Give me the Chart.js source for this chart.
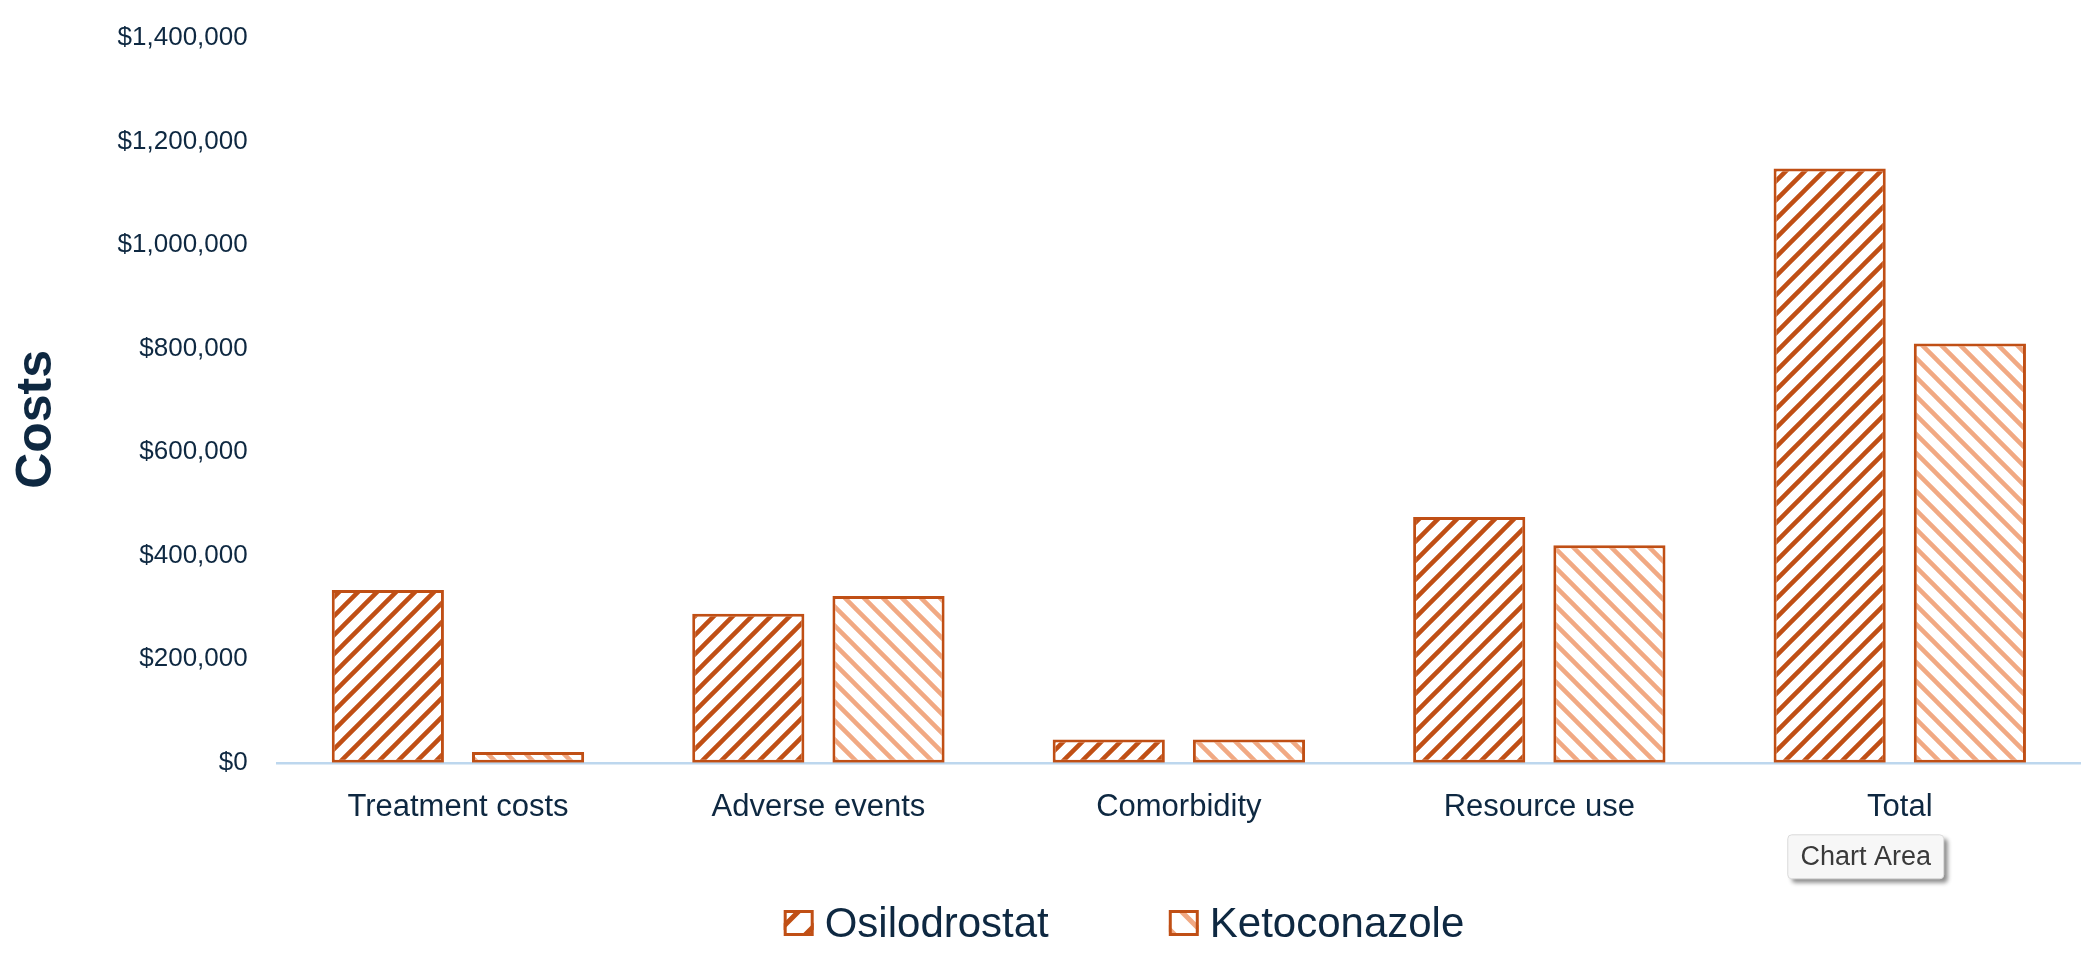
<!DOCTYPE html>
<html>
<head>
<meta charset="utf-8">
<script src="https://cdn.jsdelivr.net/npm/chart.js@4/dist/chart.umd.min.js"></script>
<style>
  html, body { margin: 0; padding: 0; background: #ffffff; }
  #wrap { width: 2100px; height: 967px; }
</style>
</head>
<body>
<div id="wrap"><canvas id="c" width="2100" height="967"></canvas></div>
<script>
// ---- data ----
const categories = ['Treatment costs', 'Adverse events', 'Comorbidity', 'Resource use', 'Total'];
const seriesNames = ['Osilodrostat', 'Ketoconazole'];
const osilodrostat = [334000, 288000, 45000, 475000, 1148000];
const ketoconazole = [21000, 322000, 45000, 420000, 810000];
const yTicks = [0, 200000, 400000, 600000, 800000, 1000000, 1200000, 1400000];
const axisTitle = 'Costs';
const hoverNote = 'Chart Area';

// ---- styles ----
const TEXT = '#0E2841';
const DARK = '#C04F15';
const LIGHT = '#F1A983';
const AXIS = '#BDD7EE';
const FONT = '"Liberation Sans", Arial, sans-serif';

function makeStripes(color, dir, size, width) {
  const c = document.createElement('canvas');
  c.width = size; c.height = size;
  const g = c.getContext('2d');
  g.fillStyle = '#ffffff';
  g.fillRect(0, 0, size, size);
  g.strokeStyle = color;
  g.lineWidth = width;
  g.lineCap = 'square';
  g.beginPath();
  if (dir === '/') {
    g.moveTo(-size, size); g.lineTo(size, -size);
    g.moveTo(0, size); g.lineTo(size, 0);
    g.moveTo(0, 2 * size); g.lineTo(2 * size, 0);
  } else {
    g.moveTo(0, -size); g.lineTo(2 * size, size);
    g.moveTo(0, 0); g.lineTo(size, size);
    g.moveTo(-size, 0); g.lineTo(size, 2 * size);
  }
  g.stroke();
  return g.createPattern(c, 'repeat');
}

const ctx = document.getElementById('c').getContext('2d');
const patOsi = makeStripes(DARK, '/', 19, 4.5);
const patKeto = makeStripes(LIGHT, '\\', 19, 4.5);
const legOsi = makeStripes(DARK, '/', 30, 5);
const legKeto = makeStripes(LIGHT, '\\', 30, 5);

const legendPlugin = {
  id: 'bottomLegend',
  afterDraw(chart) {
    const c = chart.ctx;
    c.save();
    c.font = '42px ' + FONT;
    const boxW = 30, boxH = 26, gapBT = 11, gapItems = 120;
    const items = chart.data.datasets.map(ds => ({
      text: ds.label, fill: ds.legendFill, stroke: ds.borderColor,
      w: c.measureText(ds.label).width
    }));
    const total = items.reduce((a, it) => a + boxW + gapBT + it.w, 0) + gapItems * (items.length - 1);
    let x = 1124 - total / 2;
    const yc = 923;
    items.forEach(it => {
      c.fillStyle = it.fill;
      c.fillRect(x, yc - boxH / 2, boxW, boxH);
      c.strokeStyle = it.stroke;
      c.lineWidth = 3;
      c.strokeRect(x + 1.5, yc - boxH / 2 + 1.5, boxW - 3, boxH - 3);
      c.fillStyle = TEXT;
      c.textBaseline = 'middle';
      c.textAlign = 'left';
      c.fillText(it.text, x + boxW + gapBT, yc + 2);
      x += boxW + gapBT + it.w + gapItems;
    });
    c.restore();
  }
};

const titlePlugin = {
  id: 'yTitle',
  afterDraw(chart) {
    const c = chart.ctx;
    const a = chart.chartArea;
    c.save();
    c.translate(37, (a.top + a.bottom) / 2 + 19);
    c.rotate(-Math.PI / 2);
    c.font = 'bold 50px ' + FONT;
    c.fillStyle = TEXT;
    c.textAlign = 'center';
    c.textBaseline = 'middle';
    c.fillText(axisTitle, 0, 0);
    c.restore();
  }
};

const notePlugin = {
  id: 'hoverNote',
  afterDraw(chart) {
    const c = chart.ctx;
    const xs = chart.scales.x;
    const left = xs.getPixelForValue(categories.length - 1) - 112;
    const top = chart.chartArea.bottom + 72;
    const w = 156, h = 44;
    c.save();
    c.shadowColor = 'rgba(0,0,0,0.45)';
    c.shadowBlur = 4;
    c.shadowOffsetX = 4;
    c.shadowOffsetY = 4;
    c.fillStyle = '#F7F7F7';
    c.beginPath();
    c.roundRect(left, top, w, h, 4);
    c.fill();
    c.shadowColor = 'transparent';
    c.strokeStyle = '#DADADA';
    c.lineWidth = 1;
    c.stroke();
    c.fillStyle = '#3A3A3A';
    c.font = '27px ' + FONT;
    c.textBaseline = 'middle';
    c.textAlign = 'center';
    c.fillText(hoverNote, left + w / 2, top + h / 2 + 1);
    c.restore();
  }
};

new Chart(ctx, {
  type: 'bar',
  data: {
    labels: categories,
    datasets: [
      { label: seriesNames[0], data: osilodrostat, backgroundColor: patOsi, legendFill: legOsi,
        borderColor: DARK, borderWidth: 3, borderSkipped: false },
      { label: seriesNames[1], data: ketoconazole, backgroundColor: patKeto, legendFill: legKeto,
        borderColor: DARK, borderWidth: 3, borderSkipped: false }
    ]
  },
  options: {
    responsive: false,
    animation: false,
    events: [],
    layout: { padding: { top: 38, right: 20, bottom: 115, left: 0 } },
    datasets: { bar: { categoryPercentage: 0.778, barPercentage: 0.8 } },
    plugins: { legend: { display: false }, tooltip: { enabled: false } },
    scales: {
      x: {
        z: 1,
        grid: { display: false, drawTicks: false, tickLength: 0 },
        border: { display: true, color: AXIS, width: 2.5 },
        ticks: { color: TEXT, font: { family: FONT, size: 31 }, padding: 26, maxRotation: 0 }
      },
      y: {
        min: 0, max: 1400000,
        afterBuildTicks: (scale) => { scale.ticks = yTicks.map(v => ({ value: v })); },
        afterFit: (scale) => { scale.paddingTop = 0; scale.paddingBottom = 0; },
        grid: { display: false, drawTicks: false, tickLength: 0 },
        border: { display: false },
        ticks: {
          color: TEXT, font: { family: FONT, size: 26 }, padding: 30,
          callback: (v) => '$' + Number(v).toLocaleString('en-US')
        },
        title: {
          display: true, text: axisTitle, color: 'rgba(0,0,0,0)',
          font: { family: FONT, size: 48, weight: 'bold' },
          padding: { top: 7, bottom: 23 }
        }
      }
    }
  },
  plugins: [legendPlugin, titlePlugin, notePlugin]
});
</script>
</body>
</html>
